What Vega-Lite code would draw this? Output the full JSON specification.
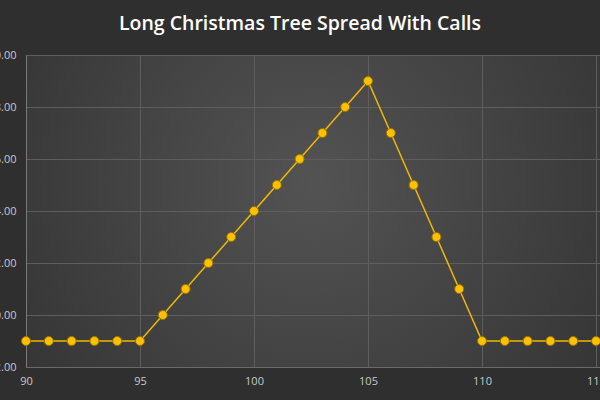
{
  "$schema": "https://vega.github.io/schema/vega-lite/v6.json",
  "autosize": {"type": "none"},
  "width": 574,
  "height": 312,
  "padding": {"left": 26, "top": 55, "right": 0, "bottom": 33},
  "background": "#2f2f2f",
  "title": {
    "text": "Long Christmas Tree Spread With Calls",
    "font": "Open Sans",
    "fontSize": 19.5,
    "fontWeight": 600,
    "color": "#ffffff",
    "anchor": "middle",
    "dx": -13,
    "offset": 15
  },
  "config": {
    "view": {
      "stroke": null,
      "fill": {
        "gradient": "radial",
        "x1": 0.5, "y1": 0.45, "r1": 0,
        "x2": 0.5, "y2": 0.45, "r2": 0.75,
        "stops": [
          {"offset": 0, "color": "#535353"},
          {"offset": 1, "color": "#2e2e2e"}
        ]
      }
    },
    "axis": {
      "labelFont": "Open Sans",
      "labelFontSize": 11,
      "labelColor": "#c8c8c8",
      "gridColor": "#5e5e5e",
      "gridWidth": 1,
      "ticks": false,
      "title": null
    }
  },
  "data": {
    "values": [
      {"price": 90, "payoff": -1},
      {"price": 91, "payoff": -1},
      {"price": 92, "payoff": -1},
      {"price": 93, "payoff": -1},
      {"price": 94, "payoff": -1},
      {"price": 95, "payoff": -1},
      {"price": 96, "payoff": 0},
      {"price": 97, "payoff": 1},
      {"price": 98, "payoff": 2},
      {"price": 99, "payoff": 3},
      {"price": 100, "payoff": 4},
      {"price": 101, "payoff": 5},
      {"price": 102, "payoff": 6},
      {"price": 103, "payoff": 7},
      {"price": 104, "payoff": 8},
      {"price": 105, "payoff": 9},
      {"price": 106, "payoff": 7},
      {"price": 107, "payoff": 5},
      {"price": 108, "payoff": 3},
      {"price": 109, "payoff": 1},
      {"price": 110, "payoff": -1},
      {"price": 111, "payoff": -1},
      {"price": 112, "payoff": -1},
      {"price": 113, "payoff": -1},
      {"price": 114, "payoff": -1},
      {"price": 115, "payoff": -1}
    ]
  },
  "encoding": {
    "x": {
      "field": "price",
      "type": "quantitative",
      "scale": {"domain": [90, 115.175], "nice": false, "zero": false},
      "axis": {
        "values": [90, 95, 100, 105, 110, 115],
        "labelPadding": 8,
        "domainColor": "#6a6a6a",
        "labelFlush": false
      }
    },
    "y": {
      "field": "payoff",
      "type": "quantitative",
      "scale": {"domain": [-2, 10], "nice": false, "zero": false},
      "axis": {
        "values": [-2, 0, 2, 4, 6, 8, 10],
        "format": ".2f",
        "labelPadding": 10,
        "domainColor": "#7a7a7a"
      }
    }
  },
  "layer": [
    {
      "mark": {"type": "line", "color": "#f0b800", "strokeWidth": 1.5}
    },
    {
      "mark": {
        "type": "point",
        "filled": true,
        "fill": "#ffc000",
        "stroke": "#9a7400",
        "strokeWidth": 1,
        "size": 80,
        "opacity": 1
      }
    }
  ]
}
